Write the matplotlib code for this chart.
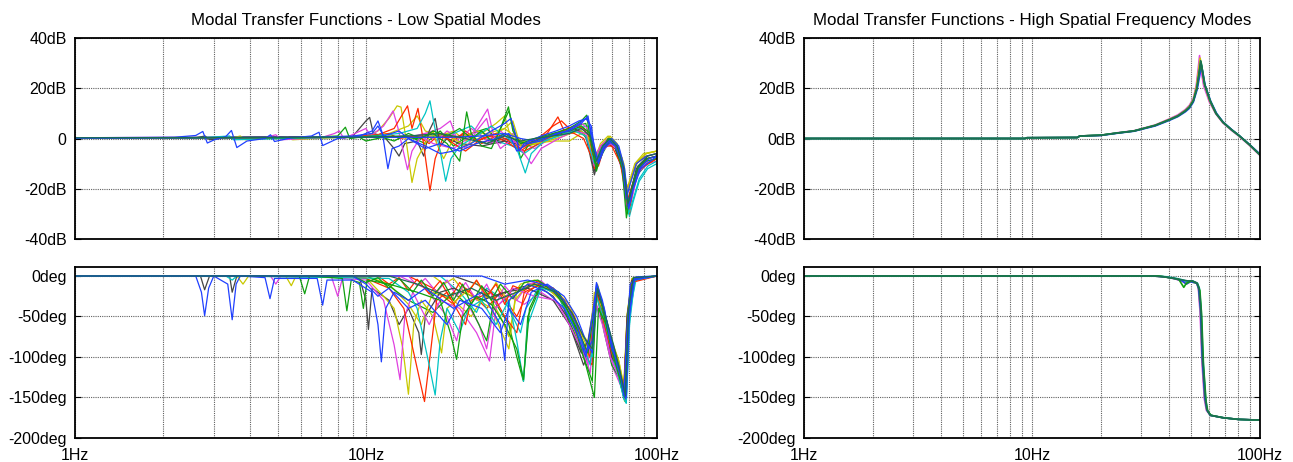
import numpy as np
import matplotlib
matplotlib.use("Agg")
import matplotlib.pyplot as plt
from matplotlib.ticker import FixedLocator, LogLocator, NullFormatter

plt.rcParams['font.family'] = ['Liberation Sans', 'DejaVu Sans']

# ---------- colours ----------
BLUE, GRAY, CYAN, MAG = '#2040ff', '#454545', '#00c4c4', '#e040e0'
YEL, RED, GRN, DGRN = '#c8c800', '#ff2a00', '#10a010', '#1b6e52'

# ---------- low spatial modes: (Hz, dB) and (Hz, deg) ----------
low_mag_b1 = [(1, 0.3), (2.2, 0.5), (2.6, 1.2), (2.75, 2.8), (2.85, -1.8), (3.0, -0.6), (3.3, 0.8), (3.45, 3.2),
              (3.6, -3.6), (3.9, -1), (4.5, 0), (4.7, 1.5), (4.85, -1.2), (5.5, 0.2), (6.5, 1), (6.9, 2.5),
              (7.1, -2.8), (8, 0), (9.5, 1), (10.5, 3), (11, 7), (11.4, 2), (11.9, -12), (12.3, -4), (13, -3),
              (14, 0), (16, -4), (18, -2), (21, -5), (24, -2), (28, 0), (31, 2), (33, -5), (36, -2), (40, -1),
              (45, 2), (50, 3), (55, 6), (58, 9), (60, -2), (62, -9), (65, -4), (68, -1), (72, -3), (76, -10),
              (78.5, -24), (81, -18), (85, -10), (92, -7), (100, -6)]
low_ph_b1 = [(1, 0), (2.6, 0), (2.72, -20), (2.79, -49), (2.88, -15), (3.0, 0), (3.35, -10), (3.47, -54),
             (3.58, -10), (3.7, 0), (4.5, -2), (4.68, -28), (4.85, -3), (6.8, -3), (7.1, -36), (7.35, -5),
             (9, -5), (10.5, -20), (11, -60), (11.3, -106), (11.7, -40), (12.5, -20), (14, -30), (16, -15),
             (20, -40), (25, -20), (29, -60), (30, -104), (31, -30), (36, -10), (42, -20), (48, -40), (53, -70),
             (57, -100), (60, -50), (62, -12), (66, -40), (70, -90), (74, -110), (77, -148), (78.5, -80),
             (81, -10), (85, -1), (100, 0)]

low_mag_k1 = [(1, 0.2), (2.6, 0.3), (2.8, 1), (2.9, -0.5), (3.5, 0.5), (9, 0.8), (10, 7), (10.3, 8.4),
              (10.6, 2), (11.5, 1), (12.5, -4), (13, -7), (13.6, -2), (15, -1), (15.8, -7), (16.5, 3),
              (17.3, 8), (18, -3), (19, 0), (21, -2), (25, -3), (30, -1), (35, -3), (40, 0), (46, 2), (52, 4),
              (57, 1), (61, -14.5), (64, -5), (68, -2), (72, -4), (77, -14), (79, -27), (81, -22), (85, -12),
              (92, -8), (100, -7)]
low_ph_k1 = [(1, 0), (2.7, 0), (2.79, -17), (2.9, 0), (3.4, 0), (3.47, -20), (3.6, 0), (9.5, -2), (10, -30),
             (10.2, -66), (10.5, -15), (12, -30), (13, -60), (14, -40), (15.2, -70), (15.5, -97), (16, -50),
             (18, -20), (20, -15), (25, -30), (30, -20), (36, -15), (44, -30), (50, -60), (55, -95), (58, -80),
             (62, -15), (66, -50), (70, -100), (74, -115), (77, -150), (79, -50), (82, -6), (100, 0)]

low_mag_y1 = [(1, 0.2), (3.5, 0.3), (3.7, 1), (3.85, -0.5), (5.4, 0.5), (5.6, -0.5), (8, 0.5), (10, 1),
              (11, 3), (12, 8), (12.8, 13), (13.2, 12.5), (13.6, 3), (14.4, -17.5), (15, -8), (16, -2),
              (17, 3), (17.5, -2), (18.5, -8), (20, 0), (22, -3), (26, 2), (30, 4), (32, 7), (34, -3),
              (38, -2), (44, -1), (50, -1), (55, 2), (59, 0), (62, -10), (66, -2), (70, -1), (76, -8),
              (78, -20), (80, -18), (84, -10), (90, -6), (100, -5)]
low_ph_y1 = [(1, 0), (3.6, 0), (3.78, -10), (3.95, 0), (5.3, 0), (5.54, -12), (5.75, 0), (10, -2),
             (11.5, -25), (12.5, -40), (13.4, -90), (14, -146), (14.6, -60), (15.5, -30), (17, -50),
             (18.2, -95), (19, -40), (22, -20), (27, -40), (31, -90), (32.5, -30), (36, -10), (42, -15),
             (50, -40), (55, -75), (58, -100), (61, -20), (65, -40), (70, -80), (75, -120), (77.5, -155),
             (80, -40), (83, -3), (100, 0)]

low_mag_m1 = [(1, 0.2), (4.5, 0.3), (4.9, 1.5), (5.1, -0.5), (7, 0.3), (7.8, 2), (8.1, 3), (8.4, 0),
              (10, 4), (10.4, 1), (11.5, 5), (12.4, 11), (12.9, 4), (13.5, -6), (13.9, -12.4), (14.4, -5),
              (15.5, 1), (17, -2), (20, -4), (23, 1), (26.2, 11.7), (27.5, 1), (29, -4), (32, 0), (35, -6),
              (37, -10), (40, -4), (46, 0), (52, 3), (57, 2), (61, -11), (65, -5), (69, -2), (74, -5),
              (77.5, -16), (79.5, -29), (82, -24), (86, -14), (93, -9), (100, -8)]
low_ph_m1 = [(1, 0), (4.7, 0), (4.9, -10), (5.1, 0), (7.6, 0), (8, -25), (8.3, -3), (10, -5), (11.5, -30),
             (12.5, -85), (13.1, -128), (13.6, -50), (14.5, -20), (16.5, -60), (18, -30), (21, -40),
             (24, -70), (26.6, -105), (28, -40), (32, -15), (38, -25), (45, -30), (50, -60), (55, -90),
             (58, -110), (61, -30), (65, -60), (69, -100), (73, -120), (76.5, -140), (78, -150), (80, -50),
             (84, -4), (100, 0)]

low_mag_r1 = [(1, 0.2), (6, 0.4), (9, 0.8), (11, 1.5), (12.5, 4), (13.9, 13), (14.4, 4), (15.1, 12),
              (15.6, 2), (16.6, -20.8), (17.3, -8), (18.5, 1), (20, -2), (22, -5), (25, 0), (28, 2),
              (31, -1), (34, -4), (38, -1), (42, 2), (45.7, 8.6), (48, 3), (52, 2), (56, 0), (60, -8),
              (63, -11), (66, -3), (70, -3), (75, -10), (78, -22), (80.5, -30), (83, -18), (88, -12), (100, -8)]
low_ph_r1 = [(1, 0), (8, 0), (10, -3), (12, -15), (13.5, -40), (14.5, -90), (15.9, -155), (16.6, -100),
             (17.5, -30), (19, -20), (22, -60), (23, -30), (27, -20), (30, -50), (33, -70), (35, -20),
             (40, -10), (44, -15), (48, -30), (52, -50), (56, -85), (59, -100), (62, -20), (66, -60),
             (70, -95), (74, -120), (77, -145), (79, -70), (82, -8), (100, 0)]

low_mag_c1 = [(1, 0.3), (2.8, 0.4), (3.4, 1), (3.5, -0.5), (10, 0.8), (13, 2), (15, 4), (16, 10),
              (16.6, 15), (17.2, 5), (18, -5), (18.8, -17), (19.6, -8), (21, -3), (24, 1), (27, 5), (29, 2),
              (31, 0), (33, -4), (35.3, -13.7), (37, -6), (41, -1), (46, 1), (52, 3), (57, 1), (61, -10),
              (65, -3), (69, 0), (74, -4), (78, -18), (80, -30), (83, -24), (87, -16), (93, -11), (100, -9)]
low_ph_c1 = [(1, 0), (3.3, 0), (3.47, -5), (3.6, 0), (12, -3), (14, -20), (15, -40), (16.5, -110),
             (17.3, -147), (18, -80), (19, -40), (21, -70), (22.5, -40), (25, -30), (28, -60), (31, -30),
             (33, -80), (34.8, -130), (36, -60), (40, -15), (45, -20), (50, -50), (55, -80), (59, -110),
             (62, -25), (66, -55), (70, -90), (74, -125), (77, -152), (78.5, -157), (80.5, -60), (84, -5),
             (100, 0)]

low_mag_g1 = [(1, 0.2), (6, 0.3), (8, 1), (8.5, 4.5), (8.8, 0), (9.5, 0.5), (10, -1), (12, 1), (15, 0),
              (17, 2), (19, -2), (21, -9), (22.2, 10.6), (23, 2), (25, -3), (27, -4), (29, 4), (30.9, 12.6),
              (32, 3), (34, -2), (38, 0), (44, 2), (50, 4), (55, 7), (57.4, 9.3), (59, 0), (62, -13),
              (65, -4), (68, 0), (72, -3), (76, -12), (78.6, -31.6), (81, -22), (85, -13), (92, -9), (100, -8)]
low_ph_g1 = [(1, 0), (5.9, 0), (6.16, -22), (6.4, 0), (8.3, -3), (8.6, -43), (8.9, -5), (9.5, -8),
             (9.8, -40), (10.1, -5), (12, -10), (15, -20), (18, -30), (19.5, -70), (20.5, -103), (21.5, -50),
             (24, -25), (27, -35), (30, -60), (33, -90), (34.8, -128), (36.5, -40), (40, -10), (46, -20),
             (52, -60), (57, -110), (61, -150), (63, -40), (67, -60), (71, -100), (75, -130), (77.5, -150),
             (80, -40), (83, -3), (100, 0)]

low_mag_b2 = [(1, 0.2), (7, 0.5), (9, 1), (10.5, 2), (11, 5), (11.5, 1), (13, 3), (14, 0), (16, -3),
              (18, -6), (20, -5), (23, -2), (27, 3), (30, 6), (31.5, 8), (33, 0), (33.6, -5), (35, -2),
              (40, 1), (45, 3), (50, 5), (54, 7), (58, 8), (61, -3), (63, -10), (66, -4), (70, -1), (74, -4),
              (78, -16), (80, -28), (83, -20), (88, -12), (100, -7)]
low_ph_b2 = [(1, 0), (9, 0), (10, -10), (11, -25), (12, -15), (14, -40), (16, -30), (19, -60), (21, -30),
             (25, -40), (29, -70), (31, -40), (34, -60), (37, -20), (42, -10), (48, -25), (53, -50),
             (57, -80), (60, -95), (62, -10), (65, -35), (69, -70), (73, -110), (76, -130), (78, -152),
             (80, -60), (83, -5), (100, 0)]

low_mag_y2 = [(1, 0.2), (9, 0.5), (12, 2), (14, 5), (15, 9), (16, 3), (18, 1), (20, 3), (22, -1), (25, 2),
              (28, 6), (30, 9), (31, 3), (33, -2), (36, -3), (42, -1), (48, 1), (53, 3), (58, 2), (61, -7),
              (65, -2), (69, 1), (73, -2), (77, -10), (79, -22), (82, -16), (86, -9), (92, -6), (100, -5)]
low_ph_y2 = [(1, 0), (10, 0), (12, -10), (14, -35), (15.5, -60), (17, -20), (20, -30), (23, -50), (26, -20),
             (29, -50), (31, -75), (33, -20), (38, -8), (44, -15), (50, -35), (55, -70), (59, -85), (62, -15),
             (66, -50), (70, -80), (74, -105), (77, -135), (79, -50), (82, -4), (100, 0)]

low_mag_m2 = [(1, 0.3), (12, 0.8), (15, 1), (18, 4), (19.5, 7), (20.5, 0), (22, -4), (24, 3), (26, 8),
              (27, 0), (29, -2), (32, 2), (35, -2), (38, -4), (43, 0), (49, 2), (54, 4), (58, 3), (61, -11),
              (64, -4), (68, -1), (72, -4), (77, -15), (79.5, -28), (82, -23), (86, -14), (93, -10), (100, -9)]
low_ph_m2 = [(1, 0), (13, 0), (16, -15), (19, -50), (20.5, -80), (22, -30), (24.5, -60), (26, -90),
             (27.5, -40), (31, -25), (35, -35), (40, -20), (46, -35), (52, -60), (56, -90), (59, -120),
             (62, -35), (66, -60), (70, -110), (74, -130), (77, -145), (78.5, -150), (80.5, -55), (84, -4),
             (100, 0)]

low_mag_g2 = [(1, 0.2), (11, 0.5), (14, 1), (16, -2), (18, 3), (20, -3), (23, 2), (26, 4), (28, 0), (31, 11),
              (32.5, 2), (34, -8), (36, -3), (41, 0), (47, 2), (53, 5), (57, 6), (60, -5), (62, -12), (65, -6),
              (68, -2), (72, -4), (77, -14), (79, -30), (81.5, -25), (85, -15), (92, -10), (100, -8)]
low_ph_g2 = [(1, 0), (10, 0), (12, -12), (14, -30), (17, -45), (20, -20), (23, -40), (26, -80), (27.5, -30),
             (31, -60), (33, -100), (34.8, -130), (36, -50), (40, -12), (46, -25), (52, -70), (56, -100),
             (60, -130), (62, -20), (66, -70), (70, -110), (74, -125), (77, -150), (79.5, -50), (83, -3),
             (100, 0)]

low_mag_r2 = [(1, 0.3), (14, 0.5), (17, 2), (20, -1), (22, 3), (25, -2), (28, 1), (31, -2), (34, -5),
              (36, -3), (40, 1), (44, 5), (47, 7), (50, 4), (54, 3), (58, 0), (61, -9), (64, -3), (68, -1),
              (72, -3), (76, -9), (78.5, -20), (81, -17), (85, -10), (92, -7), (100, -6)]
low_ph_r2 = [(1, 0), (14, 0), (17, -15), (20, -35), (22, -15), (26, -40), (29, -20), (33, -50), (36, -20),
             (40, -8), (45, -20), (50, -50), (54, -80), (57, -100), (60, -110), (62, -20), (66, -55),
             (70, -95), (74, -120), (77, -140), (79, -60), (82, -6), (100, 0)]

low_mag_c2 = [(1, 0.2), (16, 0.8), (20, 2), (23, 5), (25, 1), (28, -1), (32, -3), (35, -6), (38, -3),
              (43, 0), (48, 2), (53, 4), (58, 5), (61, -6), (63, -10), (66, -4), (70, -1), (74, -5), (78, -20),
              (80.5, -31), (83, -25), (87, -17), (93, -12), (100, -10)]
low_ph_c2 = [(1, 0), (18, 0), (21, -20), (24, -45), (26, -15), (30, -30), (34, -70), (35.5, -40), (40, -10),
             (46, -20), (51, -55), (56, -85), (60, -100), (62.5, -20), (66, -60), (70, -100), (74, -125),
             (77, -150), (78.5, -157), (81, -40), (85, -3), (100, 0)]

low_mag_k2 = [(1, 0.2), (18, 0.5), (22, 1), (26, -2), (30, 0), (34, -2), (38, -1), (44, 2), (50, 3),
              (55, 3), (58, -1), (61, -13), (64, -6), (68, -2), (72, -4), (77, -13), (79, -28), (81.5, -22),
              (86, -13), (93, -8), (100, -7)]
low_ph_k2 = [(1, 0), (20, 0), (24, -10), (28, -25), (33, -15), (38, -10), (44, -25), (49, -50), (53, -85),
             (56, -110), (59, -90), (62, -15), (66, -50), (70, -85), (74, -110), (77, -145), (79, -55),
             (82, -5), (100, 0)]

low_mag_b3 = [(1, 0.3), (20, 0.5), (25, 1), (30, 2), (34, 0), (38, -1), (43, 1), (49, 3), (54, 6), (57, 8),
              (59.5, 5), (61, -4), (63, -9), (66, -3), (70, 0), (74, -3), (77.5, -12), (80, -27),
              (82.5, -21), (87, -12), (94, -8), (100, -7)]
low_ph_b3 = [(1, 0), (25, 0), (30, -10), (36, -5), (42, -12), (48, -30), (53, -60), (57, -95), (60, -80),
             (62, -8), (65, -30), (69, -75), (73, -105), (76.5, -135), (78.5, -150), (80.5, -45), (84, -3),
             (100, 0)]

low_mag_d1 = [(1, 0.3), (10, 0.5), (14, 1), (18, 2), (22, 0), (26, -2), (30, 1), (34, -1), (38, 0), (44, 1),
              (50, 2), (55, 4), (59, 1), (62, -9), (65, -3), (69, 0), (73, -3), (77, -12), (79.5, -26),
              (82, -20), (86, -11), (93, -7), (100, -6)]
low_ph_d1 = [(1, 0), (12, 0), (15, -10), (19, -25), (23, -15), (28, -30), (33, -20), (38, -10), (45, -20),
             (51, -45), (56, -75), (60, -90), (62.5, -15), (66, -45), (71, -85), (75, -120), (78, -148),
             (80, -40), (83, -2), (100, 0)]

low_mag_g3 = [(1, 0.2), (9, 0.4), (11, 1), (12.5, -1), (14, 2), (15.5, 0), (17, 3), (19, 1), (21, 4), (23, 0),
              (25, 3), (27, -1), (30, 2), (33, -1), (36, -2), (40, 0), (45, 2), (50, 3), (55, 5), (59, 2),
              (62, -11), (65, -4), (69, -1), (73, -3), (77, -13), (79.5, -27), (82, -21), (86, -12), (93, -8),
              (100, -7)]
low_ph_g3 = [(1, 0), (9, 0), (10, -8), (11, -2), (12, -15), (13, -3), (14.5, -20), (15.5, -5), (17, -25),
             (18.5, -8), (20, -30), (21.5, -10), (23, -35), (25, -12), (27, -30), (29, -10), (32, -28),
             (35, -8), (39, -5), (44, -18), (49, -40), (54, -70), (58, -95), (61, -40), (62.5, -12), (66, -50),
             (70, -90), (74, -115), (77.5, -148), (80, -45), (83, -3), (100, 0)]

low_mag_r3 = [(1, 0.3), (10, 0.5), (12, 2), (13, 0), (15, 1), (16.5, -2), (18, 2), (20, 0), (22, 2), (24, -1),
              (27, 1), (30, -1), (32, -3), (35, -5), (38, -3), (42, 0), (47, 3), (52, 5), (56, 4), (59, 0),
              (61, -12), (64, -5), (68, -1), (72, -3), (76, -9), (79, -25), (81.5, -20), (86, -12), (93, -8),
              (100, -7)]
low_ph_r3 = [(1, 0), (11, 0), (12, -10), (13, -2), (14, -18), (15, -4), (16.5, -22), (18, -6), (19.5, -28),
             (21, -8), (22.5, -20), (24, -5), (26, -25), (28, -10), (30, -35), (32, -12), (35, -18), (39, -6),
             (45, -22), (51, -50), (55, -80), (58, -100), (60.5, -60), (62, -18), (66, -55), (70, -95),
             (74, -118), (77, -142), (79, -55), (82, -5), (100, 0)]

low_mag_m3 = [(1, 0.2), (14, 0.5), (16, 2), (17.5, -1), (19, 3), (21, 0), (23, 4), (25, 1), (27, -2), (29, 3),
              (31, 0), (34, -3), (37, -1), (41, 1), (46, 2), (51, 4), (55, 6), (58, 4), (61, -8), (64, -3),
              (68, 0), (72, -3), (76, -11), (78.8, -26), (81, -22), (85, -13), (92, -9), (100, -8)]
low_ph_m3 = [(1, 0), (14, 0), (15, -12), (16, -3), (17.5, -20), (19, -5), (20.5, -25), (22, -8), (24, -30),
             (26, -10), (28, -35), (30, -12), (33, -30), (36, -10), (40, -6), (46, -25), (51, -55), (55, -85),
             (58, -105), (61, -50), (62.5, -14), (66, -65), (70, -105), (74, -122), (77, -146), (79.5, -52),
             (83, -4), (100, 0)]

low_mag_y3 = [(1, 0.2), (16, 0.5), (19, 2), (21, 0), (24, 3), (27, 1), (30, 4), (33, 0), (36, -2), (40, -1),
              (45, 1), (50, 2), (55, 3), (58, 0), (61, -9), (64, -2), (68, 1), (72, -2), (76, -8), (78.5, -22),
              (81, -17), (85, -10), (92, -6), (100, -5)]
low_ph_y3 = [(1, 0), (17, 0), (18.5, -10), (20, -3), (22, -22), (24, -6), (26, -28), (28, -8), (31, -32),
             (34, -10), (38, -5), (44, -15), (49, -35), (54, -65), (58, -90), (61, -35), (62.5, -10), (66, -45),
             (70, -80), (74, -105), (77, -138), (79, -48), (82, -3), (100, 0)]

LOW_CURVES = [
    (YEL, low_mag_y2, low_ph_y2), (MAG, low_mag_m2, low_ph_m2), (RED, low_mag_r2, low_ph_r2),
    (CYAN, low_mag_c2, low_ph_c2), (GRAY, low_mag_k2, low_ph_k2), (GRN, low_mag_g2, low_ph_g2),
    (YEL, low_mag_y3, low_ph_y3), (MAG, low_mag_m3, low_ph_m3), (RED, low_mag_r3, low_ph_r3),
    (GRAY, low_mag_k1, low_ph_k1), (YEL, low_mag_y1, low_ph_y1), (MAG, low_mag_m1, low_ph_m1),
    (RED, low_mag_r1, low_ph_r1), (CYAN, low_mag_c1, low_ph_c1), (GRN, low_mag_g1, low_ph_g1),
    (GRN, low_mag_g3, low_ph_g3), (BLUE, low_mag_b2, low_ph_b2), (BLUE, low_mag_b3, low_ph_b3),
    (BLUE, low_mag_b1, low_ph_b1), (DGRN, low_mag_d1, low_ph_d1),
]

# ---------- high spatial frequency modes ----------
high_mag_1 = [(1, 0), (9.3, 0), (9.5, 0.3), (15.8, 0.4), (16.2, 1), (20, 1.3), (23.7, 2.2), (28, 3),
              (34.7, 5.2), (40, 7.5), (43.6, 9), (47, 11), (49, 12.5), (51, 15), (52.8, 20), (54, 26),
              (54.9, 31), (55.6, 28), (57, 22), (60.3, 15), (64, 10), (68.7, 6.5), (75, 3.5), (80.6, 1.3),
              (90, -2.5), (100, -6.5)]
high_mag_2 = [(1, 0), (9.3, 0), (9.5, 0.3), (15.8, 0.4), (16.2, 1), (20, 1.3), (23.7, 2.3), (28, 3.1),
              (34.7, 5.4), (40, 7.8), (43.6, 9.4), (47, 11.5), (49, 13.2), (51, 16), (52.5, 21), (53.6, 28),
              (54.3, 33), (55.2, 27), (56.6, 21), (60, 14.5), (64, 9.8), (68.7, 6.2), (75, 3.2), (80.6, 1),
              (90, -2.8), (100, -6.8)]
high_mag_3 = [(1, 0), (9.3, 0), (9.5, 0.3), (15.8, 0.4), (16.2, 1), (20, 1.2), (23.7, 2.1), (28, 2.9),
              (34.7, 5.0), (40, 7.2), (43.6, 8.7), (47, 10.6), (49, 12), (51, 14.5), (53, 19.5), (54.4, 25),
              (55.4, 29), (56.2, 26), (57.5, 21), (60.8, 14.8), (64.5, 10), (69, 6.5), (75.5, 3.4),
              (81, 1.2), (90, -2.4), (100, -6.2)]
high_mag_4 = [(1, 0), (9.3, 0), (9.5, 0.3), (15.8, 0.4), (16.2, 1), (20, 1.3), (23.7, 2.2), (28, 3),
              (34.7, 5.3), (40, 7.6), (43.6, 9.1), (47, 11.2), (49, 12.8), (51, 15.5), (52.6, 20.5),
              (53.8, 27), (54.6, 32), (55.4, 28.5), (56.8, 22), (60.1, 15), (64, 10), (68.7, 6.4), (75, 3.4),
              (80.6, 1.2), (90, -2.6), (100, -6.6)]
high_mag_5 = [(1, 0), (9.3, 0), (9.5, 0.3), (15.8, 0.4), (16.2, 1), (20, 1.3), (23.7, 2.2), (28, 3),
              (34.7, 5.2), (40, 7.4), (43.6, 8.9), (47, 10.9), (49, 12.4), (51, 15), (52.9, 20),
              (54.2, 26.5), (55.1, 30.5), (55.8, 27.5), (57.2, 21.5), (60.5, 15), (64.2, 10), (68.9, 6.4),
              (75.2, 3.4), (80.8, 1.2), (90, -2.5), (100, -6.5)]
high_ph_1 = [(1, 0), (34, 0), (38, -1), (42, -3), (46, -5), (48, -6), (50.5, -6), (53, -9), (54, -15),
             (55, -40), (56, -100), (57.5, -150), (58.5, -165), (60.5, -172), (68.7, -175), (80, -177),
             (100, -178)]
high_ph_2 = [(1, 0), (35, 0), (39, -1.5), (43, -4), (46, -7), (48, -8), (50, -6), (52.5, -8), (53.6, -14),
             (54.6, -45), (55.6, -105), (57, -152), (58.2, -166), (60.5, -172), (69, -175), (80, -177),
             (100, -178)]
high_ph_3 = [(1, 0), (36, 0), (40, -2), (44, -4), (46.3, -14), (47.5, -9), (50, -6), (53, -9), (54.5, -18),
             (55.5, -50), (56.5, -110), (58, -155), (59, -167), (61, -172), (69, -175), (80, -177),
             (100, -178)]
high_ph_4 = [(1, 0), (34, 0), (38, -1), (42, -3), (45.5, -6), (47.5, -10), (49.5, -7), (52.8, -9),
             (53.8, -16), (54.8, -42), (55.8, -102), (57.2, -150), (58.4, -165), (60.5, -172), (68.7, -175),
             (80, -177), (100, -178)]
high_ph_5 = [(1, 0), (35, 0), (39, -1), (43, -3), (46, -5), (48, -7), (50.5, -6), (53.2, -9), (54.2, -15),
             (55.2, -42), (56.2, -102), (57.7, -151), (58.7, -166), (60.7, -172), (69, -175), (80, -177),
             (100, -178)]

HIGH_CURVES = [
    (MAG, high_mag_2, high_ph_2), (YEL, high_mag_4, high_ph_4), (CYAN, high_mag_5, high_ph_5),
    (BLUE, high_mag_3, high_ph_4), (GRN, high_mag_5, high_ph_3), (DGRN, high_mag_1, high_ph_1),
]

MAG_TICKS = [40, 20, 0, -20, -40]
LOW_MAG_LABELS = ['40dB', '20dB', '0', '-20dB', '-40dB']
HIGH_MAG_LABELS = ['40dB', '20dB', '0dB', '-20dB', '-40dB']
PH_TICKS = [0, -50, -100, -150, -200]
PH_LABELS = ['0deg', '-50deg', '-100deg', '-150deg', '-200deg']
X_TICKS = [1, 10, 100]
X_LABELS = ['1Hz', '10Hz', '100Hz']


def style(ax, yticks, ylabels, ylim, xlabels):
    ax.set_xscale('log')
    ax.set_xlim(1, 100)
    ax.set_ylim(*ylim)
    ax.xaxis.set_major_locator(FixedLocator(X_TICKS))
    ax.xaxis.set_minor_locator(LogLocator(base=10, subs=np.arange(2, 10)))
    ax.xaxis.set_minor_formatter(NullFormatter())
    ax.set_xticks(X_TICKS)
    ax.set_xticklabels(X_LABELS if xlabels else [])
    ax.set_yticks(yticks)
    ax.set_yticklabels(ylabels)
    ax.tick_params(axis='y', direction='in', length=4, width=0.8, right=True, labelsize=11.5, pad=6)
    ax.tick_params(axis='x', which='both', length=0, labelsize=11.5, pad=7)
    ax.grid(True, which='both', axis='x', color='#606060', linestyle=(0, (1, 1)), linewidth=0.8)
    ax.grid(True, which='major', axis='y', color='#606060', linestyle=(0, (1, 1)), linewidth=0.8)
    ax.set_axisbelow(True)
    for s in ax.spines.values():
        s.set_linewidth(1.3)


fig = plt.figure(figsize=(12.93, 4.62), dpi=100)
ax_lm = fig.add_axes([0.058, 0.4827, 0.450, 0.435])
ax_lp = fig.add_axes([0.058, 0.052, 0.450, 0.369])
ax_hm = fig.add_axes([0.6218, 0.4827, 0.3527, 0.435])
ax_hp = fig.add_axes([0.6218, 0.052, 0.3527, 0.369])

for col, mag, ph in LOW_CURVES:
    ax_lm.plot([p[0] for p in mag], [p[1] for p in mag], color=col, lw=0.9)
    ax_lp.plot([p[0] for p in ph], [p[1] for p in ph], color=col, lw=0.9)
for col, mag, ph in HIGH_CURVES:
    ax_hm.plot([p[0] for p in mag], [p[1] for p in mag], color=col, lw=1.2)
    ax_hp.plot([p[0] for p in ph], [p[1] for p in ph], color=col, lw=1.2)

style(ax_lm, MAG_TICKS, LOW_MAG_LABELS, (-40, 40), False)
style(ax_lp, PH_TICKS, PH_LABELS, (-200, 10.5), True)
style(ax_hm, MAG_TICKS, HIGH_MAG_LABELS, (-40, 40), False)
style(ax_hp, PH_TICKS, PH_LABELS, (-200, 10.5), True)

ax_lm.set_title('Modal Transfer Functions - Low Spatial Modes', fontsize=12.2, pad=9.5)
ax_hm.set_title('Modal Transfer Functions - High Spatial Frequency Modes', fontsize=12.2, pad=9.5)

fig.savefig('out.png', dpi=100)
